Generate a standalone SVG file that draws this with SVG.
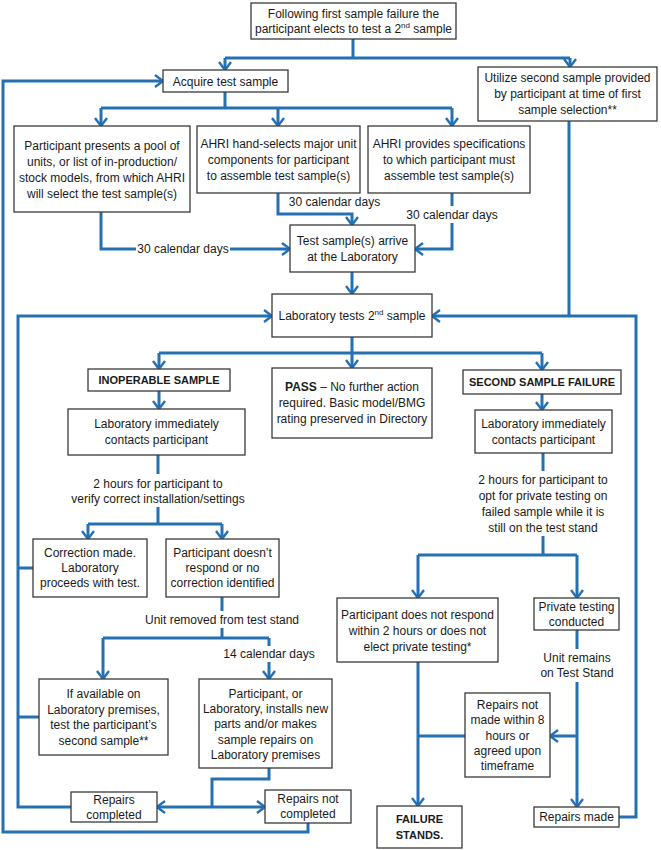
<svg xmlns="http://www.w3.org/2000/svg" width="661" height="850" viewBox="0 0 661 850">
<style>
.box{fill:#fff;stroke:#3a3a3a;stroke-width:1.3}
.t{font-family:"Liberation Sans",Arial,sans-serif;font-size:12px;fill:#1a1a1a;text-anchor:middle}
.b{font-weight:bold;font-size:11px}
.c{fill:none;stroke:#2470b3;stroke-width:3}
.a{marker-end:url(#arr)}
.bg{fill:#fff;stroke:none}
</style>
<defs>
<marker id="arr" markerUnits="userSpaceOnUse" viewBox="0 0 10 14" refX="9" refY="7" markerWidth="10" markerHeight="14" orient="auto">
<path d="M1,1 L9,7 L1,13" fill="none" stroke="#2470b3" stroke-width="2.4"/>
</marker>
</defs>

<g id="connectors">
<path class="c" d="M353,39 V58"/>
<path class="c" d="M225,58 H570"/>
<path class="c a" d="M225,58 V70"/>
<path class="c a" d="M570,58 V67"/>
<path class="c" d="M225,92 V108"/>
<path class="c" d="M101,108 H452"/>
<path class="c a" d="M101,108 V126"/>
<path class="c a" d="M278,108 V126"/>
<path class="c a" d="M452,108 V126"/>
<path class="c a" d="M278,193 V214 H352 V225"/>
<path class="c a" d="M452,193 V249 H415"/>
<path class="c a" d="M101,212 V249 H290"/>
<path class="c a" d="M352,272 V294"/>
<path class="c" d="M569,121 V316"/>
<path class="c a" d="M619,817 H636 V316 H432"/>
<path class="c a" d="M71,807 H18 V316 H272"/>
<path class="c" d="M33,568 H18"/>
<path class="c" d="M39,717 H18"/>
<path class="c a" d="M308,823 V832 H3 V81 H163"/>
<path class="c" d="M352,337 V353"/>
<path class="c" d="M159,353 H542"/>
<path class="c a" d="M159,353 V369"/>
<path class="c a" d="M352,353 V368"/>
<path class="c a" d="M542,353 V370"/>
<path class="c a" d="M159,391 V409"/>
<path class="c a" d="M542,394 V410"/>
<path class="c" d="M158,455 V524"/>
<path class="c" d="M88,524 H222"/>
<path class="c a" d="M88,524 V539"/>
<path class="c a" d="M222,524 V539"/>
<path class="c" d="M543,453 V555"/>
<path class="c" d="M418,555 H577"/>
<path class="c a" d="M418,555 V598"/>
<path class="c a" d="M577,555 V598"/>
<path class="c" d="M222,597 V638"/>
<path class="c" d="M103,638 H269"/>
<path class="c a" d="M103,638 V679"/>
<path class="c a" d="M269,638 V679"/>
<path class="c" d="M269,768 V779 H212 V807"/>
<path class="c a" d="M212,807 H157"/>
<path class="c a" d="M212,807 H265"/>
<path class="c a" d="M418,662 V806"/>
<path class="c" d="M418,736 H465"/>
<path class="c a" d="M577,630 V807"/>
<path class="c a" d="M577,736 H550"/>
</g>

<g id="labels">
<text class="t" x="334.5" y="206">30 calendar days</text>
<rect class="bg" x="406" y="206" width="92" height="17"/>
<text class="t" x="452" y="219">30 calendar days</text>
<rect class="bg" x="136" y="241" width="94" height="16"/>
<text class="t" x="183" y="253">30 calendar days</text>
<rect class="bg" x="60" y="474" width="198" height="33"/>
<text class="t" x="158" y="488">2 hours for participant to</text>
<text class="t" x="158" y="503">verify correct installation/settings</text>
<rect class="bg" x="466" y="471" width="154" height="65"/>
<text class="t" x="543" y="484">2 hours for participant to</text>
<text class="t" x="543" y="500">opt for private testing on</text>
<text class="t" x="543" y="516">failed sample while it is</text>
<text class="t" x="543" y="532">still on the test stand</text>
<rect class="bg" x="140" y="611" width="164" height="17"/>
<text class="t" x="222" y="624">Unit removed from test stand</text>
<rect class="bg" x="223" y="646" width="92" height="16"/>
<text class="t" x="269" y="658">14 calendar days</text>
<rect class="bg" x="536" y="649" width="82" height="33"/>
<text class="t" x="577" y="662">Unit remains</text>
<text class="t" x="577" y="677">on Test Stand</text>
</g>

<g id="n_top"><rect class="box" x="251" y="3" width="205" height="36"/>
<text class="t" x="353.5" y="18">Following first sample failure the</text>
<text class="t" x="353.5" y="33">participant elects to test a 2<tspan font-size="8" dy="-5">nd</tspan><tspan dy="5"> sample</tspan></text></g>

<g id="n_acquire"><rect class="box" x="163" y="70" width="125" height="22"/>
<text class="t" x="225.5" y="85.5">Acquire test sample</text></g>

<g id="n_utilize"><rect class="box" x="478" y="67" width="179" height="54"/>
<text class="t" x="567.5" y="82">Utilize second sample provided</text>
<text class="t" x="567.5" y="98">by participant at time of first</text>
<text class="t" x="567.5" y="114">sample selection**</text></g>

<g id="n_pool"><rect class="box" x="14" y="126" width="176" height="86"/>
<text class="t" x="102" y="150">Participant presents a pool of</text>
<text class="t" x="102" y="166">units, or list of in-production/</text>
<text class="t" x="102" y="182">stock models, from which AHRI</text>
<text class="t" x="102" y="198">will select the test sample(s)</text></g>

<g id="n_hand"><rect class="box" x="197" y="126" width="163" height="67"/>
<text class="t" x="278.5" y="148">AHRI hand-selects major unit</text>
<text class="t" x="278.5" y="164">components for participant</text>
<text class="t" x="278.5" y="180">to assemble test sample(s)</text></g>

<g id="n_spec"><rect class="box" x="368" y="126" width="162" height="67"/>
<text class="t" x="449" y="148">AHRI provides specifications</text>
<text class="t" x="449" y="164">to which participant must</text>
<text class="t" x="449" y="180">assemble test sample(s)</text></g>

<g id="n_arrive"><rect class="box" x="290" y="225" width="125" height="47"/>
<text class="t" x="352.5" y="245">Test sample(s) arrive</text>
<text class="t" x="352.5" y="261">at the Laboratory</text></g>

<g id="n_labtest"><rect class="box" x="272" y="294" width="160" height="43"/>
<text class="t" x="352" y="320">Laboratory tests 2<tspan font-size="8" dy="-5">nd</tspan><tspan dy="5"> sample</tspan></text></g>

<g id="n_inop"><rect class="box" x="88" y="369" width="142" height="22"/>
<text class="t b" x="159" y="384">INOPERABLE SAMPLE</text></g>

<g id="n_pass"><rect class="box" x="272" y="368" width="160" height="70"/>
<text class="t" x="352" y="391"><tspan font-weight="bold">PASS</tspan> – No further action</text>
<text class="t" x="352" y="407">required. Basic model/BMG</text>
<text class="t" x="352" y="423">rating preserved in Directory</text></g>

<g id="n_second"><rect class="box" x="463" y="370" width="158" height="24"/>
<text class="t b" x="542" y="386">SECOND SAMPLE FAILURE</text></g>

<g id="n_contactL"><rect class="box" x="68" y="409" width="177" height="46"/>
<text class="t" x="156.5" y="428">Laboratory immediately</text>
<text class="t" x="156.5" y="444">contacts participant</text></g>

<g id="n_contactR"><rect class="box" x="475" y="410" width="137" height="43"/>
<text class="t" x="543.5" y="428">Laboratory immediately</text>
<text class="t" x="543.5" y="444">contacts participant</text></g>

<g id="n_correction"><rect class="box" x="33" y="539" width="114" height="58"/>
<text class="t" x="90" y="557">Correction made.</text>
<text class="t" x="90" y="572">Laboratory</text>
<text class="t" x="90" y="587">proceeds with test.</text></g>

<g id="n_doesnt"><rect class="box" x="166" y="539" width="113" height="58"/>
<text class="t" x="222.5" y="557">Participant doesn’t</text>
<text class="t" x="222.5" y="572">respond or no</text>
<text class="t" x="222.5" y="587">correction identified</text></g>

<g id="n_ifavail"><rect class="box" x="39" y="679" width="129" height="76"/>
<text class="t" x="103.5" y="698">If available on</text>
<text class="t" x="103.5" y="714">Laboratory premises,</text>
<text class="t" x="103.5" y="729">test the participant’s</text>
<text class="t" x="103.5" y="745">second sample**</text></g>

<g id="n_install"><rect class="box" x="199" y="679" width="133" height="89"/>
<text class="t" x="265.5" y="698">Participant, or</text>
<text class="t" x="265.5" y="713">Laboratory, installs new</text>
<text class="t" x="265.5" y="728">parts and/or makes</text>
<text class="t" x="265.5" y="744">sample repairs on</text>
<text class="t" x="265.5" y="759">Laboratory premises</text></g>

<g id="n_repcomp"><rect class="box" x="71" y="792" width="86" height="30"/>
<text class="t" x="114" y="803.5">Repairs</text>
<text class="t" x="114" y="818.5">completed</text></g>

<g id="n_repnot"><rect class="box" x="265" y="790" width="86" height="33"/>
<text class="t" x="308" y="803">Repairs not</text>
<text class="t" x="308" y="818">completed</text></g>

<g id="n_notresp"><rect class="box" x="337" y="598" width="161" height="64"/>
<text class="t" x="417.5" y="619">Participant does not respond</text>
<text class="t" x="417.5" y="635">within 2 hours or does not</text>
<text class="t" x="417.5" y="651">elect private testing*</text></g>

<g id="n_private"><rect class="box" x="534" y="598" width="85" height="32"/>
<text class="t" x="576.5" y="611">Private testing</text>
<text class="t" x="576.5" y="626">conducted</text></g>

<g id="n_repnotmade"><rect class="box" x="465" y="693" width="85" height="84"/>
<text class="t" x="507.5" y="709">Repairs not</text>
<text class="t" x="507.5" y="724">made within 8</text>
<text class="t" x="507.5" y="740">hours or</text>
<text class="t" x="507.5" y="755">agreed upon</text>
<text class="t" x="507.5" y="770">timeframe</text></g>

<g id="n_failure"><rect class="box" x="377" y="806" width="85" height="42"/>
<text class="t b" x="419.5" y="823">FAILURE</text>
<text class="t b" x="419.5" y="839">STANDS.</text></g>

<g id="n_repmade"><rect class="box" x="534" y="807" width="85" height="20"/>
<text class="t" x="576.5" y="821">Repairs made</text></g>
</svg>
